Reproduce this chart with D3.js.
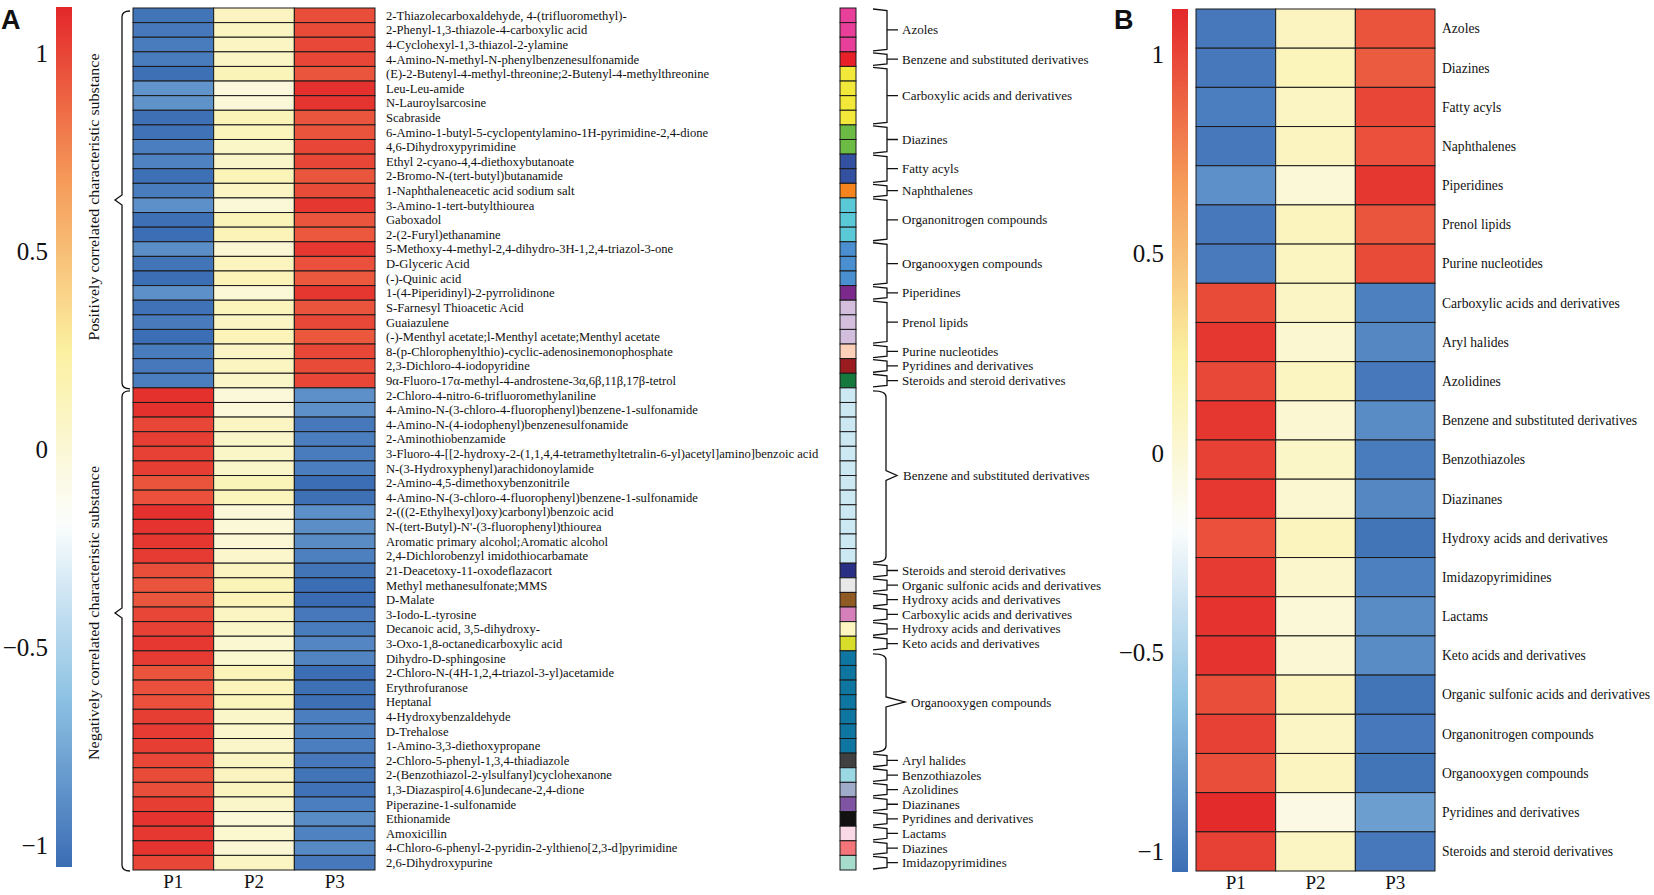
<!DOCTYPE html>
<html>
<head>
<meta charset="utf-8">
<script src="https://cdn.jsdelivr.net/npm/d3@7"></script>
<style>
  body { margin: 0; background: #fff; }
  text { font-family: "Liberation Serif", "Times New Roman", serif; fill: #111; }
</style>
</head>
<body>
<script>
// ---- data ----
const samples = ["P1", "P2", "P3"];

const compounds = [
  "2-Thiazolecarboxaldehyde, 4-(trifluoromethyl)-",
  "2-Phenyl-1,3-thiazole-4-carboxylic acid",
  "4-Cyclohexyl-1,3-thiazol-2-ylamine",
  "4-Amino-N-methyl-N-phenylbenzenesulfonamide",
  "(E)-2-Butenyl-4-methyl-threonine;2-Butenyl-4-methylthreonine",
  "Leu-Leu-amide",
  "N-Lauroylsarcosine",
  "Scabraside",
  "6-Amino-1-butyl-5-cyclopentylamino-1H-pyrimidine-2,4-dione",
  "4,6-Dihydroxypyrimidine",
  "Ethyl 2-cyano-4,4-diethoxybutanoate",
  "2-Bromo-N-(tert-butyl)butanamide",
  "1-Naphthaleneacetic acid sodium salt",
  "3-Amino-1-tert-butylthiourea",
  "Gaboxadol",
  "2-(2-Furyl)ethanamine",
  "5-Methoxy-4-methyl-2,4-dihydro-3H-1,2,4-triazol-3-one",
  "D-Glyceric Acid",
  "(-)-Quinic acid",
  "1-(4-Piperidinyl)-2-pyrrolidinone",
  "S-Farnesyl Thioacetic Acid",
  "Guaiazulene",
  "(-)-Menthyl acetate;l-Menthyl acetate;Menthyl acetate",
  "8-(p-Chlorophenylthio)-cyclic-adenosinemonophosphate",
  "2,3-Dichloro-4-iodopyridine",
  "9\u03b1-Fluoro-17\u03b1-methyl-4-androstene-3\u03b1,6\u03b2,11\u03b2,17\u03b2-tetrol",
  "2-Chloro-4-nitro-6-trifluoromethylaniline",
  "4-Amino-N-(3-chloro-4-fluorophenyl)benzene-1-sulfonamide",
  "4-Amino-N-(4-iodophenyl)benzenesulfonamide",
  "2-Aminothiobenzamide",
  "3-Fluoro-4-[[2-hydroxy-2-(1,1,4,4-tetramethyltetralin-6-yl)acetyl]amino]benzoic acid",
  "N-(3-Hydroxyphenyl)arachidonoylamide",
  "2-Amino-4,5-dimethoxybenzonitrile",
  "4-Amino-N-(3-chloro-4-fluorophenyl)benzene-1-sulfonamide",
  "2-(((2-Ethylhexyl)oxy)carbonyl)benzoic acid",
  "N-(tert-Butyl)-N'-(3-fluorophenyl)thiourea",
  "Aromatic primary alcohol;Aromatic alcohol",
  "2,4-Dichlorobenzyl imidothiocarbamate",
  "21-Deacetoxy-11-oxodeflazacort",
  "Methyl methanesulfonate;MMS",
  "D-Malate",
  "3-Iodo-L-tyrosine",
  "Decanoic acid, 3,5-dihydroxy-",
  "3-Oxo-1,8-octanedicarboxylic acid",
  "Dihydro-D-sphingosine",
  "2-Chloro-N-(4H-1,2,4-triazol-3-yl)acetamide",
  "Erythrofuranose",
  "Heptanal",
  "4-Hydroxybenzaldehyde",
  "D-Trehalose",
  "1-Amino-3,3-diethoxypropane",
  "2-Chloro-5-phenyl-1,3,4-thiadiazole",
  "2-(Benzothiazol-2-ylsulfanyl)cyclohexanone",
  "1,3-Diazaspiro[4.6]undecane-2,4-dione",
  "Piperazine-1-sulfonamide",
  "Ethionamide",
  "Amoxicillin",
  "4-Chloro-6-phenyl-2-pyridin-2-ylthieno[2,3-d]pyrimidine",
  "2,6-Dihydroxypurine"
];

const valP1 = [-1.02,-1.0,-0.98,-0.98,-1.04,-0.86,-0.87,-1.04,-1.03,-0.97,-0.95,-1.04,-0.98,-0.88,-1.04,-1.05,-0.89,-1.02,-1.05,-0.88,-1.03,-0.99,-1.05,-0.98,-1.0,-0.97,
  1.08,1.08,1.0,1.03,1.02,1.03,0.95,0.96,1.08,1.07,1.06,1.04,0.97,0.95,0.94,1.0,1.02,1.05,1.04,0.95,0.96,0.96,1.03,1.04,1.03,1.0,0.98,0.97,1.03,1.07,1.05,1.07,1.0];
const valP2 = [0.1,0.09,0.08,0.07,0.13,-0.03,-0.02,0.13,0.12,0.06,0.05,0.13,0.08,-0.01,0.13,0.14,0.0,0.11,0.14,-0.01,0.12,0.08,0.14,0.07,0.09,0.06,
  -0.02,-0.02,0.08,0.05,0.06,0.05,0.13,0.12,-0.02,-0.01,0.0,0.04,0.1,0.13,0.14,0.08,0.06,0.02,0.03,0.13,0.12,0.12,0.05,0.04,0.05,0.08,0.1,0.11,0.05,-0.01,0.03,0.0,0.08];
const valP3 = [0.97,0.98,0.99,1.0,0.94,1.08,1.07,0.94,0.95,1.0,1.0,0.94,0.98,1.06,0.94,0.93,1.05,0.96,0.93,1.06,0.95,0.99,0.93,1.0,0.98,1.0,
  -0.88,-0.88,-1.0,-0.97,-0.98,-0.97,-1.05,-1.04,-0.88,-0.89,-0.9,-0.96,-1.02,-1.05,-1.06,-1.0,-0.98,-0.93,-0.94,-1.05,-1.04,-1.04,-0.97,-0.96,-0.97,-1.0,-1.02,-1.03,-0.97,-0.9,-0.95,-0.91,-1.0];

const classNames = [
  "Azoles", "Benzene and substituted derivatives", "Carboxylic acids and derivatives", "Diazines",
  "Fatty acyls", "Naphthalenes", "Organonitrogen compounds", "Organooxygen compounds", "Piperidines",
  "Prenol lipids", "Purine nucleotides", "Pyridines and derivatives", "Steroids and steroid derivatives",
  "Benzene and substituted derivatives", "Steroids and steroid derivatives", "Organic sulfonic acids and derivatives",
  "Hydroxy acids and derivatives", "Carboxylic acids and derivatives", "Hydroxy acids and derivatives",
  "Keto acids and derivatives", "Organooxygen compounds", "Aryl halides", "Benzothiazoles", "Azolidines",
  "Diazinanes", "Pyridines and derivatives", "Lactams", "Diazines", "Imidazopyrimidines"
];
const classSizes = [3,1,4,2,2,1,3,3,1,3,1,1,1,12,1,1,1,1,1,1,7,1,1,1,1,1,1,1,1];
const classColors = [
  "#e8409a","#e8202a","#f2e83a","#6cbb45","#3450a0","#f5841f","#5bc8d8","#4a90d0","#7b2a8c",
  "#d3bedd","#fdd0b8","#9a1c20","#15793d","#cce9f3","#2a2f86","#e8e8e8","#8f5a24","#d57fbb",
  "#fdf6c0","#d8dd2c","#0e76a0","#404040","#9ad8e4","#9fabc8","#7f54a2","#111111","#fad9e6",
  "#f37479","#a6dccb"
];

const groupNames = ["Positively correlated characteristic substance", "Negatively correlated characteristic substance"];
const groupSizes = [26, 33];

const bClasses = [
  "Azoles","Diazines","Fatty acyls","Naphthalenes","Piperidines","Prenol lipids","Purine nucleotides",
  "Carboxylic acids and derivatives","Aryl halides","Azolidines","Benzene and substituted derivatives",
  "Benzothiazoles","Diazinanes","Hydroxy acids and derivatives","Imidazopyrimidines","Lactams",
  "Keto acids and derivatives","Organic sulfonic acids and derivatives","Organonitrogen compounds",
  "Organooxygen compounds","Pyridines and derivatives","Steroids and steroid derivatives"
];
const bP1 = [-1.0,-1.0,-0.97,-1.0,-0.88,-1.0,-0.99,0.98,1.06,0.99,1.06,1.02,1.05,0.96,1.04,1.07,1.07,0.97,1.02,0.97,1.1,1.02];
const bP2 = [0.1,0.12,0.08,0.1,-0.01,0.11,0.09,0.07,0.02,0.09,0.01,0.06,0.02,0.11,0.04,-0.01,0.0,0.1,0.07,0.1,-0.07,0.08];
const bP3 = [0.95,0.92,1.0,0.96,1.06,0.94,0.98,-0.96,-0.92,-1.0,-0.9,-0.98,-0.92,-1.02,-0.96,-0.9,-0.9,-1.02,-1.0,-1.02,-0.8,-1.0];

const legendTicks = [-1, -0.5, 0, 0.5, 1];
const colorStops = [-1.06, -0.62, -0.19, 0.25, 0.68, 1.12];
const colorHex = ["#3a6cb4", "#8fc3e4", "#fbfdfd", "#fbf0a0", "#f59a59", "#e3262a"];

// ---- drawing ----
let svg = d3.select("body").append("svg")
  .attr("width", 1654)
  .attr("height", 895);

let color = d3.scaleLinear().domain(colorStops).range(colorHex).clamp(true);
let fmt = d3.format("~g");

function colorbar(id, x0, yTop, yBot, yOne, yMinusOne) {
  let s = d3.scaleLinear().domain([-1, 1]).range([yMinusOne, yOne]);
  let vTop = s.invert(yTop), vBot = s.invert(yBot);
  let grad = svg.append("defs").append("linearGradient")
    .attr("id", id).attr("x1", 0).attr("y1", 1).attr("x2", 0).attr("y2", 0);
  d3.range(0, 1.0001, 0.02).forEach((t) => {
    grad.append("stop").attr("offset", t).attr("stop-color", color(vBot + t * (vTop - vBot)));
  });
  svg.append("rect").attr("x", x0).attr("y", yTop).attr("width", 16).attr("height", yBot - yTop)
    .attr("fill", "url(#" + id + ")");
  let ax = svg.append("g").attr("transform", "translate(" + x0 + ",0)")
    .call(d3.axisLeft(s).tickValues(legendTicks).tickFormat(fmt).tickSize(0).tickPadding(8));
  ax.select(".domain").remove();
  ax.selectAll("text").style("font-size", "25px").style("font-family", "Liberation Serif, serif").attr("fill", "#111");
}

function heatmap(rows, v1, v2, v3, x0, x1, y0, y1) {
  let x = d3.scaleBand().domain(samples).range([x0, x1]);
  let y = d3.scaleBand().domain(d3.range(rows.length)).range([y0, y1]);
  let cells = [];
  rows.forEach((r, i) => {
    cells.push({ i: i, s: "P1", v: v1[i] });
    cells.push({ i: i, s: "P2", v: v2[i] });
    cells.push({ i: i, s: "P3", v: v3[i] });
  });
  svg.append("g").selectAll("rect").data(cells).enter().append("rect")
    .attr("x", (d) => x(d.s))
    .attr("y", (d) => y(d.i))
    .attr("width", x.bandwidth())
    .attr("height", y.bandwidth())
    .attr("fill", (d) => color(d.v))
    .attr("stroke", "#1a1a1a")
    .attr("stroke-width", 1);
  let ax = svg.append("g").attr("transform", "translate(0," + y1 + ")")
    .call(d3.axisBottom(x).tickSize(0).tickPadding(5));
  ax.select(".domain").remove();
  ax.selectAll("text").style("font-size", "19px").style("font-family", "Liberation Serif, serif").attr("fill", "#111");
  return y;
}

// panel letters
svg.append("text").attr("x", 1).attr("y", 29).text("A")
  .style("font-family", "Liberation Sans, Arial, sans-serif").style("font-weight", "bold").style("font-size", "27px");
svg.append("text").attr("x", 1114).attr("y", 29).text("B")
  .style("font-family", "Liberation Sans, Arial, sans-serif").style("font-weight", "bold").style("font-size", "27px");

// ----- panel A -----
colorbar("gradA", 56, 7, 867, 53, 845);
let yA = heatmap(compounds, valP1, valP2, valP3, 133, 375, 8, 870);

svg.append("g").selectAll("text").data(compounds).enter().append("text")
  .attr("x", 386)
  .attr("y", (d, i) => yA(i) + yA.bandwidth() / 2)
  .attr("dy", "0.35em")
  .style("font-size", "12.6px")
  .text((d) => d);

// class colour strip
let classRows = [];
let start = 0;
classNames.forEach((c, k) => {
  classRows.push({ name: c, start: start, end: start + classSizes[k], color: classColors[k] });
  start += classSizes[k];
});
let strip = [];
classRows.forEach((g) => {
  for (let i = g.start; i < g.end; i++) strip.push({ i: i, color: g.color });
});
svg.append("g").selectAll("rect").data(strip).enter().append("rect")
  .attr("x", 840).attr("width", 16)
  .attr("y", (d) => yA(d.i)).attr("height", yA.bandwidth())
  .attr("fill", (d) => d.color)
  .attr("stroke", "#1a1a1a").attr("stroke-width", 1);

function brace(xOut, xV, xTip, y0, yMid, y1) {
  return "M" + xOut + "," + y0 + " Q" + xV + "," + y0 + " " + xV + "," + (y0 + 6) +
    " L" + xV + "," + (yMid - 5) + " L" + xTip + "," + yMid + " L" + xV + "," + (yMid + 5) +
    " L" + xV + "," + (y1 - 6) + " Q" + xV + "," + y1 + " " + xOut + "," + y1;
}

let bw = yA.bandwidth();
classRows.forEach((g) => {
  let y0 = yA(g.start), y1 = yA(g.end - 1) + bw, ym = (y0 + y1) / 2;
  let tx;
  if (g.end - g.start >= 7) {
    let tip = g.end - g.start >= 12 ? 897 : 905;
    svg.append("path").attr("d", brace(873, 886, tip, y0 + 3, ym, y1 - 1))
      .attr("fill", "none").attr("stroke", "#111").attr("stroke-width", 1.3);
    tx = tip + 6;
  } else {
    svg.append("path")
      .attr("d", "M873," + (y0 + 1) + " L887," + (y0 + 2.5) + " L887," + (y1 - 2.5) + " L873," + (y1 - 1) +
        " M887," + ym + " L898," + ym)
      .attr("fill", "none").attr("stroke", "#111").attr("stroke-width", 1.3);
    tx = 902;
  }
  svg.append("text").attr("x", tx).attr("y", ym).attr("dy", "0.35em")
    .style("font-size", "13px").text(g.name);
});

// group braces + rotated labels
let gStart = 0;
groupNames.forEach((name, k) => {
  let y0 = yA(gStart), y1 = yA(gStart + groupSizes[k] - 1) + bw;
  let ym = k === 0 ? 200 : 613;
  svg.append("path").attr("d", brace(130, 122, 115, y0 + 3, ym, y1 + 1))
    .attr("fill", "none").attr("stroke", "#111").attr("stroke-width", 1.3);
  let cy = k === 0 ? 197 : 613;
  svg.append("text")
    .attr("transform", "translate(99," + cy + ") rotate(-90)")
    .attr("text-anchor", "middle")
    .attr("textLength", k === 0 ? 287 : 294)
    .attr("lengthAdjust", "spacingAndGlyphs")
    .style("font-size", "14px")
    .text(name);
  gStart += groupSizes[k];
});

// ----- panel B -----
colorbar("gradB", 1172, 9, 872, 54.5, 851.5);
let yB = heatmap(bClasses, bP1, bP2, bP3, 1196, 1435, 9, 871);
svg.append("g").selectAll("text").data(bClasses).enter().append("text")
  .attr("x", 1442)
  .attr("y", (d, i) => yB(i) + yB.bandwidth() / 2)
  .attr("dy", "0.35em")
  .style("font-size", "13.6px")
  .text((d) => d);
</script>
</body>
</html>
